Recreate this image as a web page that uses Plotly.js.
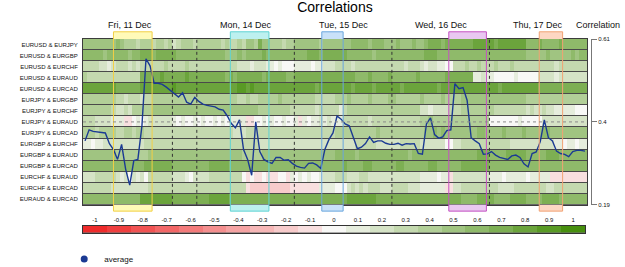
<!DOCTYPE html>
<html>
<head>
<meta charset="utf-8">
<script src="https://cdn.plot.ly/plotly-3.0.1.min.js"></script>
<style>
  html, body { margin: 0; padding: 0; background: #fff; }
  #chart { width: 625px; height: 267px; }
</style>
</head>
<body>
<div id="chart"></div>
<script>
// Currency pairs, top row first
const pairs = [
  'EURUSD & EURJPY', 'EURUSD & EURGBP', 'EURUSD & EURCHF', 'EURUSD & EURAUD',
  'EURUSD & EURCAD', 'EURJPY & EURGBP', 'EURJPY & EURCHF', 'EURJPY & EURAUD',
  'EURJPY & EURCAD', 'EURGBP & EURCHF', 'EURGBP & EURAUD', 'EURGBP & EURCAD',
  'EURCHF & EURAUD', 'EURCHF & EURCAD', 'EURAUD & EURCAD'
];

// Hourly correlation per pair, one character per hour:
// '0'..'9' -> 0.0..0.9, 'a' -> -0.1, 'b' -> -0.2
const EURUSD_EURJPY = ['55555555','65','4443444','34434','23','4443444', '44434','3343','554','7','55','444344','5555554555', '55556','6665666','55565556556','77767777', '777','8888878888888','666766667666666'];
const EURUSD_EURGBP = ['66666566666566','777677777','66666666', '6666','555656','66676666666666','7776777', '777','6666665666666666666','777','666666', '6666666666666666','555556555556566'];
const EURUSD_EURCHF = ['3333','2212','333232333','33343333433333', '333333','32221222','11010001111011','222', '333323333333333332333','212211','00','33', '3433433343334333','333333323333333'];
const EURUSD_EURAUD = ['43333333333333','77777877777877777', '7777676','7777776','7777766','7777777','777', '77777','6667666','6766666','6766666','67777', '777','11211','00000100000','222212222222'];
const EURUSD_EURCAD = ['88888888','7777778','8888888988888888', '8888888','9989','88888888888888878888', '8888788','8878888','8878888','8888788','888', '8888888887888888888','777777777777'];
const EURJPY_EURGBP = ['44444444','332333233','44444444444444', '4444444','33433','44444544444444','33333', '4445444','4544445','5444444','5444454','444', '5555555555555555','444444444444444'];
const EURJPY_EURCHF = ['4444','4443223244444','55555555555555', '555555555555','44444444','33333323333', '313','444444444444444444','2212222','333', '44444444','3333333','32322322','11111','000'];
const EURJPY_EURAUD = ['33322','22111','aa','0101','222222','101001010', '01010','1111','aa0','0101001001a10','112121', '11','3333332333333333333','4454444','444', '4444444','0000000100000','22222222222'];
const EURJPY_EURCAD = ['4443444433443443','333333333333333', '3333332','2233333','3333333','3333333','333', '4444444444544444444444','556565','555', '5555665','5556555','5655556','6555555','555'];
const EURGBP_EURCHF = ['11011','2222222222','3333333333333333', '333333333333','2222222222222222222', '2222233','3332222','2233333','222222','00','22', '333333333333','22222222222','11011011'];
const EURGBP_EURAUD = ['55555555','44444444','555555555555555', '55555555','44444','555555555555555555', '6666656','6666666','6666566','6666666','666', '6666777','6666777','7766666','7776666','666'];
const EURGBP_EURCAD = ['666666666666666','7777777','666666666', '77777','6666666','6666666','6666666','66666', '6676666','7766666','6776666','6677666','666', '7777777','666666666666666666666666'];
const EURCHF_EURAUD = ['222','33333','21202120','333333','222102222', '33333333','0a0aa0aaa00a','10101001','222', '33322233','2222222222222','1111011','a22', '2222222','111011111011111','aaaaaaaaa'];
const EURCHF_EURCAD = ['3333333','222222222','333333333333333', '333333333','a','bbbbbbbbbb','aaaaaaa','1111', '000','232323332223333222','111111','aa','22', '3333333','3322223','3333333','2233333','333'];
const EURAUD_EURCAD = ['66666666666666','88888888','777777777', '88888','7777777','7777777','7777777','77777', '777','8888888','7777777','7777777','7777777', '6666777','7666677','7766667','7776666','666'];

// Average correlation across all pairs, hourly
const averageCorr = [
  0.352, 0.380, 0.376, 0.375, 0.373, 0.372, 0.345, 0.330, 0.305, 0.343,
  0.280, 0.240, 0.302, 0.305, 0.390, 0.560, 0.542, 0.498, 0.498, 0.495,
  0.488, 0.480, 0.470, 0.463, 0.474, 0.450, 0.445, 0.462, 0.452, 0.445,
  0.442, 0.440, 0.438, 0.432, 0.430, 0.415, 0.396, 0.385, 0.405, 0.330,
  0.305, 0.265, 0.400, 0.325, 0.305, 0.299, 0.295, 0.310, 0.310, 0.303,
  0.304, 0.295, 0.288, 0.285, 0.283, 0.295, 0.296, 0.291, 0.282, 0.330,
  0.355, 0.372, 0.415, 0.407, 0.395, 0.390, 0.360, 0.332, 0.336, 0.345,
  0.362, 0.348, 0.352, 0.352, 0.346, 0.343, 0.343, 0.346, 0.341, 0.345,
  0.344, 0.345, 0.320, 0.318, 0.395, 0.410, 0.368, 0.359, 0.362, 0.378,
  0.380, 0.497, 0.484, 0.487, 0.455, 0.360, 0.352, 0.345, 0.318, 0.319,
  0.325, 0.316, 0.310, 0.308, 0.305, 0.314, 0.316, 0.310, 0.294, 0.286,
  0.320, 0.324, 0.350, 0.405, 0.360, 0.352, 0.326, 0.320, 0.318, 0.312,
  0.325, 0.328, 0.328, 0.326
];

// Trading days: label positions and the hour boundaries between them
const dayLabels  = ['Fri, 11 Dec', 'Mon, 14 Dec', 'Tue, 15 Dec', 'Wed, 16 Dec', 'Thu, 17 Dec'];
const dayCenters = [11, 39.5, 63.5, 87.5, 111.5];
const dayBreaks  = [21.5, 27.5, 51.5, 75.5, 99.5];

// Highlighted event windows (hour index)
const sessionStart = [7, 35.75, 58.25, 89.5, 111.75];
const sessionEnd   = [16.5, 45.25, 63.5, 98.75, 117.5];
const sessionEdge  = ['#f2cf45', '#5fd3d3', '#6aa6de', '#c552c2', '#f1a273'];
const sessionFill  = ['#fffab8', '#bdf0ef', '#c9e1f8', '#e9c8f1', '#fdd7c3'];

// Colour scale: one step per tenth
const scaleTicks  = [-1, -0.9, -0.8, -0.7, -0.6, -0.5, -0.4, -0.3, -0.2, -0.1, 0,
                      0.1, 0.2, 0.3, 0.4, 0.5, 0.6, 0.7, 0.8, 0.9, 1];
const scaleColors = ['#ee2b2b', '#ef3f3f', '#f05353', '#f26767', '#f37b7b', '#f48f8f',
                     '#f5a3a3', '#f6b7b7', '#f7cbcb', '#f8dfdf', '#f8f8f6',
                     '#e6eddd', '#d5e3c6', '#c4d9af', '#b2cf98', '#a0c481',
                     '#8fba6a', '#7daf53', '#6ba43c', '#599a25', '#478f0e'];

// Right axis ticks for the average line
const avgTicks = [0.19, 0.4, 0.61];

// ---------------------------------------------------------------
const NEG = { a: -0.1, b: -0.2 };
const decode = segs => segs.join('').split('').map(ch => (ch in NEG ? NEG[ch] : Number(ch) / 10));

const rows = [EURUSD_EURJPY, EURUSD_EURGBP, EURUSD_EURCHF, EURUSD_EURAUD, EURUSD_EURCAD,
              EURJPY_EURGBP, EURJPY_EURCHF, EURJPY_EURAUD, EURJPY_EURCAD, EURGBP_EURCHF,
              EURGBP_EURAUD, EURGBP_EURCAD, EURCHF_EURAUD, EURCHF_EURCAD, EURAUD_EURCAD];
const z = rows.map(decode);
const hours = averageCorr.map((_, i) => i);
z.forEach((r, i) => { if (r.length !== hours.length) console.error(pairs[i] + ': ' + r.length); });

const n = scaleColors.length;
const colorscale = [];
scaleColors.forEach((c, i) => { colorscale.push([i / n, c], [(i + 1) / n, c]); });

const FONT = 'Liberation Sans, Arial, sans-serif';
const LINE = '#1b3a93';

// Plot area spans y = 39 .. 267 px (228 px tall)
const PH = 228;

const traces = [
  {
    type: 'heatmap', z: z, x: hours, y: pairs,
    zmin: -1.05, zmax: 1.05, colorscale: colorscale, showscale: false,
    ygap: 1, hoverinfo: 'skip'
  },
  {
    type: 'scatter', mode: 'lines', x: hours, y: averageCorr, yaxis: 'y2',
    line: { color: LINE, width: 1.4 }, showlegend: false, name: 'average'
  },
  {
    type: 'scatter', mode: 'markers', x: [null], y: [null], yaxis: 'y2',
    name: 'average', marker: { color: LINE, size: 7 }
  },
  {
    type: 'heatmap', z: [scaleTicks], x: scaleTicks, y: [0], xaxis: 'x2', yaxis: 'y3',
    zmin: -1.05, zmax: 1.05, colorscale: colorscale, showscale: false, hoverinfo: 'skip'
  }
];

const shapes = [];
sessionStart.forEach((s, i) => {
  const e = sessionEnd[i];
  shapes.push({ type: 'rect', xref: 'x', yref: 'y domain', x0: s, x1: e, y0: 1, y1: 1.0435,
                fillcolor: sessionFill[i], line: { width: 0 }, layer: 'above' });
  shapes.push({ type: 'rect', xref: 'x', yref: 'y domain', x0: s, x1: e, y0: -0.038, y1: 0,
                fillcolor: sessionFill[i], line: { width: 0 }, layer: 'above' });
  shapes.push({ type: 'rect', xref: 'x', yref: 'y domain', x0: s, x1: e, y0: -0.038, y1: 1.0435,
                fillcolor: 'rgba(0,0,0,0)', line: { color: sessionEdge[i], width: 1 }, layer: 'above' });
});
dayBreaks.forEach(b => {
  shapes.push({ type: 'line', xref: 'x', yref: 'y domain', x0: b, x1: b, y0: 0, y1: 1,
                line: { color: '#333', width: 1, dash: 'dot' }, layer: 'above' });
});
shapes.push({ type: 'line', xref: 'x domain', yref: 'y2', x0: 0, x1: 1, y0: avgTicks[1], y1: avgTicks[1],
              line: { color: '#8a8a8a', width: 1, dash: 'dot' }, layer: 'above' });

const annotations = dayLabels.map((t, i) => ({
  text: t, xref: 'x', yref: 'y domain', x: dayCenters[i], y: 1.082,
  xanchor: 'center', yanchor: 'middle', showarrow: false, font: { size: 9, color: '#111' }
}));
annotations.push({
  text: 'Correlation', xref: 'paper', yref: 'y domain', x: 1.0138, y: 1.082,
  xanchor: 'center', yanchor: 'middle', showarrow: false, font: { size: 9, color: '#111' }
});

const layout = {
  width: 625, height: 267,
  margin: { l: 83, r: 34, t: 39, b: 0 },
  paper_bgcolor: '#fff', plot_bgcolor: '#4a4a4a',
  font: { family: FONT, color: '#222' },
  title: {
    text: 'Correlations', font: { size: 14, color: '#000' },
    xref: 'paper', x: 0.496, xanchor: 'center',
    yref: 'container', y: 0.972, yanchor: 'middle'
  },
  showlegend: true,
  legend: {
    orientation: 'h', xref: 'paper', x: -0.037, xanchor: 'left',
    yref: 'container', y: 0.03, yanchor: 'middle',
    font: { size: 8, color: '#111' }, bgcolor: 'rgba(0,0,0,0)'
  },
  xaxis: {
    domain: [0, 504 / 508], range: [-0.5, hours.length - 0.5],
    showticklabels: false, ticks: '', showgrid: false, zeroline: false,
    showline: true, mirror: true, linecolor: '#3c3c3c', linewidth: 1
  },
  yaxis: {
    domain: [44 / PH, 1], autorange: 'reversed', type: 'category',
    tickfont: { size: 6, color: '#111' }, ticks: '', ticklabelstandoff: 3,
    showgrid: false, zeroline: false, showline: true, mirror: true, linecolor: '#3c3c3c'
  },
  yaxis2: {
    overlaying: 'y', anchor: 'free', position: 1, side: 'right',
    range: [avgTicks[0], avgTicks[2]], tickmode: 'array',
    tickvals: avgTicks, ticktext: avgTicks.map(String),
    ticks: 'outside', ticklen: 5, tickcolor: '#777', tickfont: { size: 6, color: '#111' },
    showline: true, linecolor: '#777', showgrid: false, zeroline: false
  },
  xaxis2: {
    domain: [0, 502 / 508], anchor: 'y3', side: 'top', range: [-1.05, 1.05],
    tickmode: 'array', tickvals: scaleTicks, ticktext: scaleTicks.map(String),
    ticks: '', tickfont: { size: 6, color: '#111' },
    showgrid: false, zeroline: false, showline: true, mirror: true, linecolor: '#333'
  },
  yaxis3: {
    domain: [13 / PH, 21 / PH], anchor: 'x2', range: [-0.5, 0.5],
    showticklabels: false, ticks: '', showgrid: false, zeroline: false,
    showline: true, mirror: true, linecolor: '#333'
  },
  shapes: shapes,
  annotations: annotations
};

Plotly.newPlot('chart', traces, layout, { staticPlot: true, displayModeBar: false });
</script>
</body>
</html>
